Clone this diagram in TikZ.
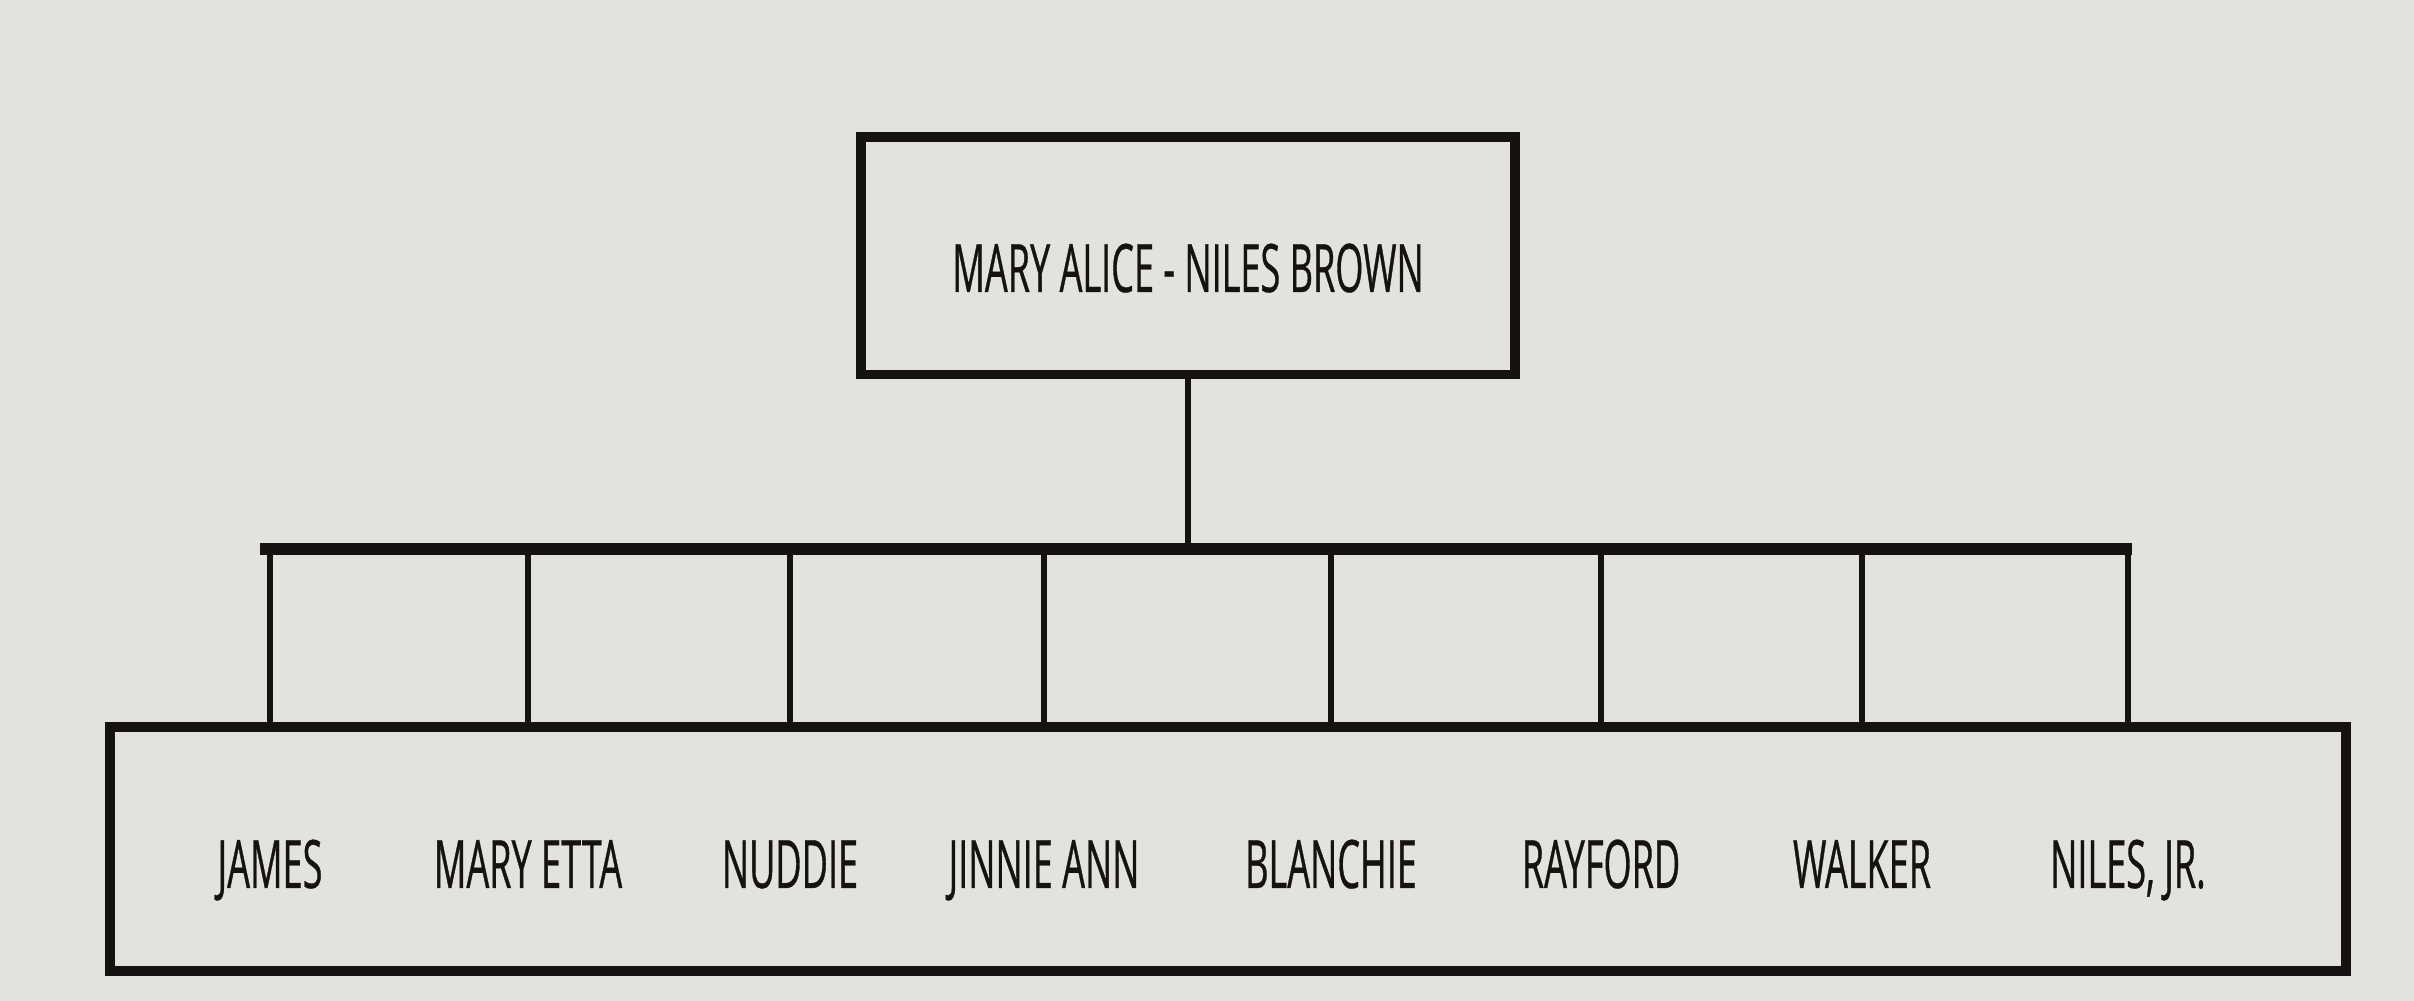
\documentclass[tikz,border=0pt]{standalone}
\usepackage{fontspec}
\setmainfont{Open Sans}[FakeStretch=0.54, FakeBold=0.5]
\usetikzlibrary{positioning}
\definecolor{paper}{RGB}{226,226,223}
\definecolor{ink}{RGB}{22,18,18}

\begin{document}
\begin{tikzpicture}[
  x=0.01cm, y=-0.01cm,
  box/.style={draw=ink, line width=2.8pt, fill=paper, inner sep=0pt},
  member/.style={text=ink, font=\fontsize{19}{23}\selectfont, inner sep=0pt, anchor=base},
  bar/.style={draw=ink, line width=3.3pt, line cap=rect},
  drop/.style={draw=ink, line width=1.6pt}
]
\fill[paper] (0,0) rectangle (2414,1001);
\useasboundingbox (0,0) rectangle (2414,1001);
\node[box, minimum width=6.53cm, minimum height=2.37cm] (parents) at (1188,256) {};
\node[member] at (1188,292) {MARY ALICE - NILES BROWN};
\node[box, minimum width=22.34cm, minimum height=2.44cm] (kids) at (1228,849) {};
\coordinate (barL) at (266,549);
\coordinate (barR) at (2126,549);
\draw[drop] (parents.south) -- (parents.south |- barL);
\draw[bar] (barL) -- (barR);
\foreach \x/\id/\txt in {270/james/JAMES, 528/maryetta/MARY ETTA, 790/nuddie/NUDDIE,
  1044/jinnie/JINNIE ANN, 1331/blanchie/BLANCHIE, 1601/rayford/RAYFORD,
  1862/walker/WALKER, 2128/niles/{NILES, JR.}} {
  \node[member] (\id) at (\x,888) {\txt};
  \draw[drop] (\id |- barL) -- (\id |- kids.north);
}
\end{tikzpicture}
\end{document}
